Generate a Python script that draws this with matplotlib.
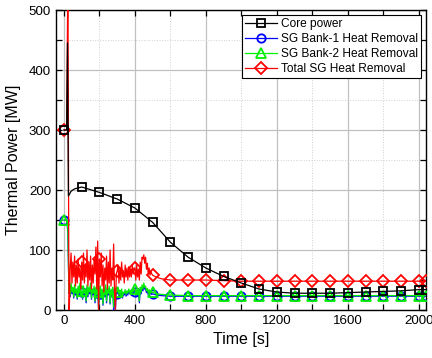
import numpy as np
import matplotlib
matplotlib.use("Agg")
import matplotlib.pyplot as plt
from matplotlib.ticker import MultipleLocator

plt.rcParams['font.family'] = ['Liberation Sans', 'DejaVu Sans']

# ---------------- data ----------------
core_t = [0, 15, 20, 25, 40, 60, 100, 200, 300, 400, 500, 600, 700, 800, 900,
          1000, 1100, 1200, 1300, 1400, 1500, 1600, 1700, 1800, 1900, 2000, 2040]
core_p = [300, 300, 445, 190, 198, 202, 205, 196, 185, 170, 146, 113, 88, 70, 56,
          45, 35, 30, 28, 28, 28, 29, 30, 31, 32, 34, 34]

# transient start (shared times)
start_t = [0, 15, 22, 28]
red_start = [300, 300, 560, 0]
green_start = [150, 150, 135, 30]
blue_start = [150, 150, 130, 28]

# noisy segment t = 30..500 step 5
noise_t = list(range(30, 505, 5))
red_noise = [0, 70, 95, 45, 80, 55, 90, 40, 75, 45, 85, 55, 70, 35, 80,
             50, 95, 45, 75, 55, 100, 40, 80, 50, 90, 35, 75, 45, 85, 60,
             105, 35, 115, 0, 85, 55, 95, 40, 75, 30, 70, 50, 90, 35, 80,
             45, 100, 40, 70, 50, 110, 30, 0, 60, 65, 75, 45, 70, 50, 80,
             55, 65, 45, 75, 55, 70, 50, 72, 55, 68, 55, 75, 60, 70, 70,
             50, 75, 55, 68, 50, 80, 60, 88, 85, 92, 78, 88, 68, 78, 60,
             70, 58, 65, 60, 58]
green_noise = [40, 25, 45, 30, 38, 22, 42, 28, 35, 20, 40, 30, 45, 25, 32,
               20, 40, 28, 35, 15, 42, 25, 38, 30, 45, 20, 35, 28, 40, 15,
               38, 25, 45, 5, 30, 40, 20, 35, 10, 38, 25, 42, 15, 35, 28,
               40, 12, 35, 25, 38, 5, 30, 20, 35, 30, 38, 25, 33, 28, 35,
               22, 30, 28, 34, 26, 32, 28, 35, 30, 33, 27, 34, 30, 36, 35,
               25, 33, 28, 35, 15, 38, 30, 42, 35, 45, 38, 40, 32, 36, 28,
               34, 30, 32, 29, 30]
blue_noise = [36, 22, 40, 27, 35, 20, 38, 25, 32, 18, 36, 27, 40, 22, 30,
              18, 36, 25, 32, 12, 38, 22, 35, 27, 40, 18, 32, 25, 36, 12,
              35, 22, 40, 3, 27, 36, 18, 32, 8, 35, 22, 38, 12, 32, 25,
              36, 10, 32, 22, 35, 0, 27, 0, 32, 27, 35, 22, 30, 25, 32,
              20, 27, 25, 31, 23, 29, 25, 32, 27, 30, 24, 31, 27, 33, 30,
              22, 30, 25, 32, 12, 35, 27, 38, 32, 40, 35, 36, 29, 33, 25,
              31, 27, 29, 26, 27]

# smooth tail
tail_t = [520, 550, 600, 700, 800, 900, 1000, 1100, 1200, 1300, 1400, 1500,
          1600, 1700, 1800, 1900, 2000, 2040]
red_tail = [55, 52, 50, 50, 50, 49, 48, 48, 48, 48, 48, 48, 48, 48, 48, 48, 48, 48]
green_tail = [27, 26, 25, 24, 24, 24, 24, 24, 24, 24, 24, 24, 24, 24, 24, 24, 24, 24]
blue_tail = [25, 24, 23, 23, 23, 23, 23, 23, 23, 23, 23, 23, 23, 23, 23, 23, 23, 23]

labels = ["Core power", "SG Bank-1 Heat Removal", "SG Bank-2 Heat Removal",
          "Total SG Heat Removal"]

# ---------------- build ----------------
sg_t = np.array(start_t + noise_t + tail_t, dtype=float)
red = np.array(red_start + red_noise + red_tail, dtype=float)
green = np.array(green_start + green_noise + green_tail, dtype=float)
blue = np.array(blue_start + blue_noise + blue_tail, dtype=float)
ct = np.array(core_t, dtype=float)
cp = np.array(core_p, dtype=float)


def mark_idx(t):
    idx = [i for i, v in enumerate(t) if v % 100 == 0]
    idx.append(len(t) - 1)
    return sorted(set(idx))


fig = plt.figure(figsize=(4.32, 3.58), dpi=100)
ax = fig.add_axes([0.1296, 0.134, 0.857, 0.838])

ms = 6
mew = 1.3
ax.plot(sg_t, blue, color='#0000ff', lw=0.9, marker='o', ms=ms, mfc='none',
        mew=mew, markevery=mark_idx(sg_t), label=labels[1], zorder=3)
ax.plot(sg_t, green, color='#00ee00', lw=0.9, marker='^', ms=ms + 1, mfc='none',
        mew=mew, markevery=mark_idx(sg_t), label=labels[2], zorder=4)
ax.plot(sg_t, red, color='#ff0000', lw=0.9, marker='D', ms=ms, mfc='none',
        mew=mew, markevery=mark_idx(sg_t), label=labels[3], zorder=5)
ax.plot(ct, cp, color='black', lw=0.9, marker='s', ms=ms, mfc='none',
        mew=mew, markevery=mark_idx(ct), label=labels[0], zorder=6)

ax.set_xlim(-45, 2042)
ax.set_ylim(0, 500)
ax.xaxis.set_major_locator(MultipleLocator(400))
ax.xaxis.set_minor_locator(MultipleLocator(200))
ax.yaxis.set_major_locator(MultipleLocator(100))
ax.yaxis.set_minor_locator(MultipleLocator(50))
ax.grid(which='major', color='#c0c0c0', lw=0.9, ls='-', zorder=0)
ax.grid(which='minor', color='#d0d0d0', lw=0.7, ls=':', zorder=0)
ax.set_axisbelow(True)
ax.tick_params(which='both', direction='in', top=True, right=True,
               labelsize=9.6, color='black')
ax.tick_params(which='major', length=4, width=0.9)
ax.tick_params(which='minor', length=4, width=0.9)
for s in ax.spines.values():
    s.set_linewidth(1.0)

ax.set_xlabel("Time [s]", fontsize=11.5, labelpad=4)
ax.set_ylabel("Thermal Power [MW]", fontsize=11.5, labelpad=6)

h, l = ax.get_legend_handles_labels()
order = [3, 0, 1, 2]
leg = ax.legend([h[i] for i in order], [l[i] for i in order], loc='upper right',
                fontsize=8.6, frameon=True, fancybox=False, edgecolor='black',
                framealpha=1, borderpad=0.25, labelspacing=0.25,
                handlelength=2.7, handletextpad=0.3, borderaxespad=0.45)
leg.get_frame().set_linewidth(0.8)

fig.savefig("out.png", dpi=100)
